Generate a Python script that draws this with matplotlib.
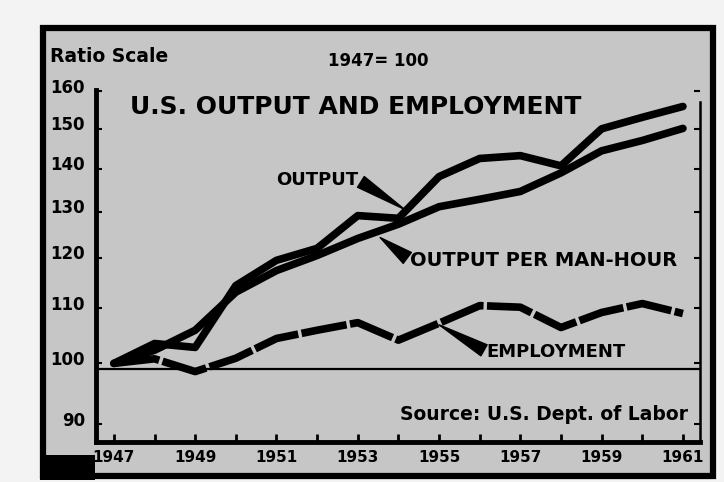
import matplotlib.pyplot as plt
from matplotlib.patches import Rectangle
from matplotlib.ticker import FixedLocator, NullLocator
import matplotlib.transforms as mtransforms

# values (1947 = 100, ratio scale)
years = list(range(1947, 1962))
output = [100, 103.5, 102.8, 114.4, 119.5, 122.0, 129.1, 128.5, 138.1,
          142.5, 143.2, 140.7, 150.0, 153.0, 155.9]
output_per_man_hour = [100, 102.3, 105.9, 113.1, 117.4, 120.5, 124.1, 127.2,
                       131.1, 132.8, 134.6, 139.0, 144.4, 147.0, 150.1]
employment = [100, 100.8, 98.6, 100.9, 104.4, 105.9, 107.3, 104.1, 107.2,
              110.5, 110.2, 106.4, 109.2, 110.9, 109.0]

y_ticks = [90, 100, 110, 120, 130, 140, 150, 160]
x_label_years = [1947, 1949, 1951, 1953, 1955, 1957, 1959, 1961]
base_line = 99

plt.rcParams['font.family'] = ['DejaVu Sans']
plt.rcParams['font.weight'] = 'bold'

fig = plt.figure(figsize=(7.24, 4.82), dpi=100, facecolor='#f3f3f3')

# newsprint panel with heavy border
fig.add_artist(Rectangle((43 / 724, 1 - 476 / 482), 670 / 724, 448 / 482,
                         transform=fig.transFigure, facecolor='#c6c6c6',
                         edgecolor='black', linewidth=4.5, zorder=0))
fig.add_artist(Rectangle((40 / 724, 1 - 480 / 482), 55 / 724, 25 / 482,
                         transform=fig.transFigure, facecolor='black',
                         edgecolor='none', zorder=1))

ax = fig.add_axes([96 / 724, 1 - 442 / 482, 604 / 724, 352 / 482])
ax.set_facecolor('none')
ax.set_yscale('log')
ax.set_xlim(1946.56, 1961.42)
ax.set_ylim(87.3, 160.4)

ax.plot(years, output, color='black', lw=5.5, solid_capstyle='round',
        solid_joinstyle='round')
ax.plot(years, output_per_man_hour, color='black', lw=5.5,
        solid_capstyle='round', solid_joinstyle='round')
ax.plot(years, employment, color='black', lw=5.5, linestyle=(0, (6.0, 0.45)),
        dash_joinstyle='round')
ax.axhline(base_line, color='black', lw=1.6)

# axes styling
for side in ['left', 'bottom']:
    ax.spines[side].set_linewidth(3.5)
ax.spines['right'].set_linewidth(1.8)
ax.spines['right'].set_bounds(87.3, 157.0)
ax.spines['top'].set_visible(False)

ax.yaxis.set_major_locator(FixedLocator(y_ticks))
ax.yaxis.set_minor_locator(NullLocator())
ax.set_yticklabels([str(v) for v in y_ticks])
ax.tick_params(axis='y', direction='in', length=4, width=1.5, right=True,
               labelsize=12, pad=8)
shift = mtransforms.ScaledTranslation(0, 4 / 72, fig.dpi_scale_trans)
for lab in ax.get_yticklabels():
    lab.set_transform(lab.get_transform() + shift)

ax.xaxis.set_major_locator(FixedLocator(x_label_years))
ax.xaxis.set_minor_locator(FixedLocator(years))
ax.set_xticklabels([str(y) for y in x_label_years])
ax.tick_params(axis='x', which='both', direction='in', length=6, width=2,
               labelsize=11, pad=6)

# titles and notes
fig.text(50 / 724, 1 - 57 / 482, 'Ratio Scale', fontsize=13.5,
         ha='left', va='center')
fig.text(328 / 724, 1 - 61 / 482, '1947= 100', fontsize=12,
         ha='left', va='center')
ax.text(0.056, 0.952, 'U.S. OUTPUT AND EMPLOYMENT', transform=ax.transAxes,
        fontsize=18, ha='left', va='center')
ax.text(0.503, 0.077, 'Source: U.S. Dept. of Labor', transform=ax.transAxes,
        fontsize=13.5, ha='left', va='center')

wedge = dict(arrowstyle='wedge,tail_width=0.7', fc='black', ec='black',
             shrinkA=0, shrinkB=0)
ax.annotate('OUTPUT', xy=(1954.15, 130.5), xycoords='data',
            xytext=(0.434, 0.744), textcoords='axes fraction',
            fontsize=13, ha='right', va='center',
            arrowprops=dict(wedge, relpos=(1, 0.5)))
ax.annotate('OUTPUT PER MAN-HOUR', xy=(1953.55, 124.3), xycoords='data',
            xytext=(0.520, 0.517), textcoords='axes fraction',
            fontsize=14, ha='left', va='center',
            arrowprops=dict(wedge, relpos=(0, 0.5)))
ax.annotate('EMPLOYMENT', xy=(1955.0, 106.9), xycoords='data',
            xytext=(0.647, 0.256), textcoords='axes fraction',
            fontsize=13, ha='left', va='center',
            arrowprops=dict(wedge, relpos=(0, 0.5)))

fig.savefig('out.png', dpi=100, facecolor=fig.get_facecolor())
